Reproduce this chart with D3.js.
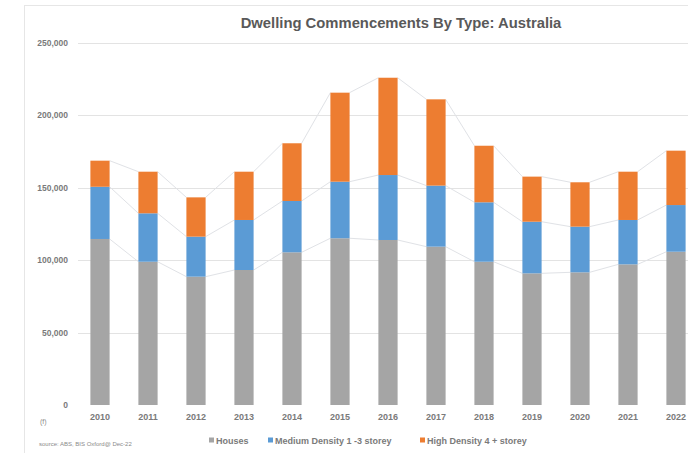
<!DOCTYPE html>
<html><head><meta charset="utf-8">
<script src="https://cdn.jsdelivr.net/npm/d3@7/dist/d3.min.js"></script>
<style>body{margin:0;background:#fff}svg{display:block;font-family:Arial,"Liberation Sans",sans-serif}</style>
</head><body><svg id="c" width="688" height="453"></svg>
<script>
const years = ["2010","2011","2012","2013","2014","2015","2016","2017","2018","2019","2020","2021","2022"];
const houses = [114500,98800,88500,93100,105300,115000,113800,109200,98800,90800,91500,97000,105700];
const medium = [36000,33400,27600,34500,35400,39000,44800,42100,41000,35600,31500,30600,32200];
const high   = [18000,28700,27100,33300,39800,61400,67100,59500,39000,31100,30600,33300,37500];
const seriesNames = ["Houses","Medium Density 1 -3 storey","High Density 4 + storey"];
const colors = ["#a5a5a5","#5b9bd5","#ed7d31"];
const yTicks = [0,50000,100000,150000,200000,250000];

const svg = d3.select("#c");
// frame
svg.append("line").attr("x1",24).attr("x2",688).attr("y1",5.5).attr("y2",5.5).attr("stroke","#e6e6e6");
svg.append("line").attr("x1",24.5).attr("x2",24.5).attr("y1",5).attr("y2",453).attr("stroke","#e6e6e6");

const x = d3.scaleBand().domain(years).range([76,700]).paddingInner(0.6).paddingOuter(0.3);
const y = d3.scaleLinear().domain([0,250000]).range([405,42.5]);

// grid
svg.append("g").selectAll("line").data(yTicks.slice(1)).join("line")
  .attr("x1",78).attr("x2",688).attr("y1",d=>Math.round(y(d))+0.5).attr("y2",d=>Math.round(y(d))+0.5)
  .attr("stroke","#e3e3e3").attr("stroke-width",1);

// y axis labels
const yAxis = d3.axisLeft(y).tickValues(yTicks).tickSize(0).tickPadding(0).tickFormat(d3.format(","));
const ga = svg.append("g").attr("transform","translate(68,0)").call(yAxis);
ga.select(".domain").remove();
ga.selectAll("text").attr("font-size",8.5).attr("font-weight","bold").attr("fill","#7a7a7a");

// x axis labels
const xAxis = d3.axisBottom(x).tickSize(0).tickPadding(0);
const gx = svg.append("g").attr("transform","translate(0,414)").call(xAxis);
gx.select(".domain").remove();
gx.selectAll("text").attr("font-size",9).attr("font-weight","bold").attr("fill","#7a7a7a");

// stack
const data = years.map((yr,i)=>({year:yr,h:houses[i],m:medium[i],d:high[i]}));
const stack = d3.stack().keys(["h","m","d"])(data);

// series lines
stack.forEach((layer)=>{
  const g = svg.append("g");
  for(let i=0;i<layer.length-1;i++){
    g.append("line")
      .attr("x1",x(years[i])+x.bandwidth()).attr("y1",y(layer[i][1]))
      .attr("x2",x(years[i+1])).attr("y2",y(layer[i+1][1]))
      .attr("stroke","#e0e2e6").attr("stroke-width",1);
  }
});

// bars
stack.forEach((layer,k)=>{
  svg.append("g").selectAll("rect").data(layer).join("rect")
    .attr("x",d=>x(d.data.year)).attr("width",x.bandwidth())
    .attr("y",d=>y(d[1])).attr("height",d=>y(d[0])-y(d[1]))
    .attr("fill",colors[k]);
});

// title
svg.append("text").attr("x",401).attr("y",28).attr("text-anchor","middle")
  .attr("font-size",14.8).attr("font-weight","bold").attr("fill","#595959")
  .text("Dwelling Commencements By Type: Australia");

// legend
const legX = [209,268,420];
seriesNames.forEach((n,i)=>{
  svg.append("rect").attr("x",legX[i]).attr("y",437.5).attr("width",5).attr("height",5).attr("fill",colors[i]);
  svg.append("text").attr("x",legX[i]+7).attr("y",443.5).attr("font-size",9).attr("font-weight","bold")
    .attr("fill","#7a7a7a").text(n);
});

// notes
svg.append("text").attr("x",40).attr("y",424).attr("font-size",7).attr("fill","#8a8a8a").text("(f)");
svg.append("text").attr("x",39).attr("y",446).attr("font-size",6).attr("fill","#8a8a8a").text("source: ABS, BIS Oxford@ Dec-22");
</script></body></html>
